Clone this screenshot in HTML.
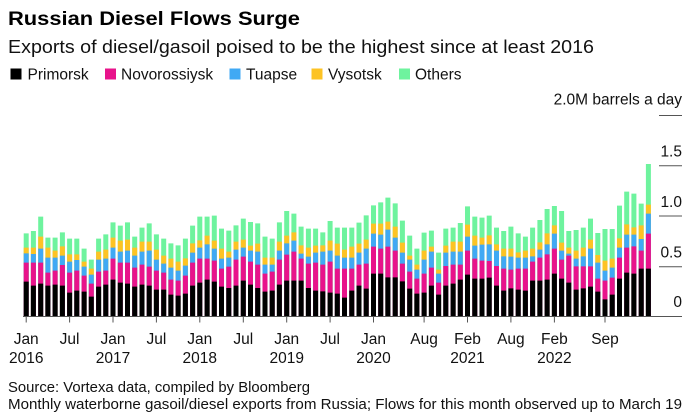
<!DOCTYPE html>
<html><head><meta charset="utf-8"><style>
html,body{margin:0;padding:0;background:#fff;}
svg{display:block;}
text{font-family:"Liberation Sans",Arial,sans-serif;}
</style></head><body>
<svg width="692" height="416" viewBox="0 0 692 416" xmlns="http://www.w3.org/2000/svg">
<rect width="692" height="416" fill="#fff"/>
<text x="8" y="25" font-size="19.5" font-weight="bold" fill="#000" textLength="292" lengthAdjust="spacingAndGlyphs">Russian Diesel Flows Surge</text>
<text x="8" y="53" font-size="18" fill="#111" textLength="586" lengthAdjust="spacingAndGlyphs">Exports of diesel/gasoil poised to be the highest since at least 2016</text>
<g font-size="15.5" fill="#111">
<rect x="10.5" y="68.5" width="11" height="11" fill="#000"/><text x="27.5" y="79.5">Primorsk</text>
<rect x="105" y="68.5" width="11" height="11" fill="#e8138b"/><text x="121" y="79.5">Novorossiysk</text>
<rect x="229.5" y="68.5" width="11" height="11" fill="#40a9f4"/><text x="246" y="79.5">Tuapse</text>
<rect x="311.5" y="68.5" width="11" height="11" fill="#fdc324"/><text x="328" y="79.5">Vysotsk</text>
<rect x="399" y="68.5" width="11" height="11" fill="#6ef39e"/><text x="415" y="79.5">Others</text>
</g>
<g font-size="15.5" fill="#111" text-anchor="end">
<text x="682" y="104.5">2.0M barrels a day</text>
<text x="682" y="156.5">1.5</text>
<text x="682" y="207">1.0</text>
<text x="682" y="257.5">0.5</text>
<text x="682" y="307">0</text>
</g>
<g stroke="#555" stroke-width="1">
<line x1="659" y1="115.5" x2="682" y2="115.5"/>
<line x1="659" y1="165.7" x2="682" y2="165.7"/>
<line x1="659" y1="216" x2="682" y2="216"/>
<line x1="659" y1="266.7" x2="682" y2="266.7"/>
</g>
<g fill="none" stroke-width="5">
<g transform="translate(0,205) scale(1,0.3333333)">
<path stroke="#6ef39e" d="M26.2 85V334M33.4 78V334M40.7 35V334M47.9 98V334M55.1 98V334M62.4 82V334M69.6 101V334M76.8 101V334M84.1 131V334M91.3 164V334M98.6 101V334M105.8 88V334M113 52V334M120.3 62V334M127.5 52V334M134.7 95V334M142 68V334M149.2 55V334M156.4 88V334M163.7 101V334M170.9 115V334M178.1 121V334M185.4 101V334M192.6 62V334M199.8 35V334M207.1 35V334M214.3 32V334M221.5 71V334M228.8 77V334M236 61V334M243.3 41V334M250.5 51V334M257.7 55V334M265 95V334M272.2 101V334M279.4 52V334M286.7 18V334M293.9 26V334M301.1 65V334M308.4 71V334M315.6 71V334M322.8 82V334M330.1 48V334"/>
<path stroke="#fdc324" d="M26.2 128V334M33.4 128V334M40.7 95V334M47.9 128V334M55.1 137V334M62.4 124V334M69.6 148V334M76.8 148V334M84.1 170V334M91.3 191V334M98.6 140V334M105.8 134V334M113 98V334M120.3 107V334M127.5 104V334M134.7 128V334M142 110V334M149.2 110V334M156.4 134V334M163.7 152V334M170.9 161V334M178.1 170V334M185.4 160V334M192.6 115V334M199.8 106V334M207.1 92V334M214.3 107V334M221.5 131V334M228.8 140V334M236 110V334M243.3 104V334M250.5 122V334M257.7 116V334M265 158V334M272.2 158V334M279.4 110V334M286.7 92V334M293.9 82V334M301.1 121V334M308.4 128V334M315.6 122V334M322.8 121V334M330.1 107V334"/>
<path stroke="#40a9f4" d="M26.2 145V334M33.4 147V334M40.7 131V334M47.9 158V334M55.1 158V334M62.4 152V334M69.6 170V334M76.8 165V334M84.1 185V334M91.3 209V334M98.6 164V334M105.8 161V334M113 128V334M120.3 140V334M127.5 137V334M134.7 152V334M142 140V334M149.2 137V334M156.4 164V334M163.7 176V334M170.9 188V334M178.1 197V334M185.4 182V334M192.6 143V334M199.8 128V334M207.1 118V334M214.3 131V334M221.5 161V334M228.8 158V334M236 134V334M243.3 128V334M250.5 137V334M257.7 140V334M265 179V334M272.2 179V334M279.4 137V334M286.7 115V334M293.9 107V334M301.1 146V334M308.4 155V334M315.6 143V334M322.8 140V334M330.1 137V334"/>
<path stroke="#e8138b" d="M26.2 173V334M33.4 173V334M40.7 173V334M47.9 203V334M55.1 197V334M62.4 180V334M69.6 203V334M76.8 197V334M84.1 212V334M91.3 236V334M98.6 200V334M105.8 197V334M113 161V334M120.3 173V334M127.5 173V334M134.7 188V334M142 179V334M149.2 185V334M156.4 197V334M163.7 203V334M170.9 224V334M178.1 227V334M185.4 212V334M192.6 173V334M199.8 161V334M207.1 161V334M214.3 167V334M221.5 191V334M228.8 185V334M236 164V334M243.3 155V334M250.5 170V334M257.7 179V334M265 206V334M272.2 200V334M279.4 164V334M286.7 149V334M293.9 140V334M301.1 161V334M308.4 176V334M315.6 173V334M322.8 179V334M330.1 170V334"/>
<path stroke="#000" d="M26.2 230V334M33.4 242V334M40.7 236V334M47.9 242V334M55.1 239V334M62.4 242V334M69.6 263V334M76.8 257V334M84.1 260V334M91.3 275V334M98.6 245V334M105.8 239V334M113 224V334M120.3 233V334M127.5 236V334M134.7 245V334M142 239V334M149.2 242V334M156.4 254V334M163.7 254V334M170.9 269V334M178.1 272V334M185.4 266V334M192.6 242V334M199.8 233V334M207.1 224V334M214.3 230V334M221.5 245V334M228.8 249V334M236 242V334M243.3 227V334M250.5 239V334M257.7 249V334M265 260V334M272.2 257V334M279.4 239V334M286.7 227V334M293.9 227V334M301.1 227V334M308.4 249V334M315.6 257V334M322.8 259V334M330.1 263V334"/>
</g>
<g transform="translate(0,190) scale(1,0.3333333)">
<path stroke="#6ef39e" d="M337.3 113V379M344.5 113V379M351.8 113V379M359 98V379M366.2 76V379M373.5 46V379M380.7 37V379M387.9 23V379M395.2 40V379M402.4 92V379M409.7 137V379M416.9 176V379M424.1 128V379M431.4 122V379M438.6 188V379M445.8 116V379M453.1 113V379M460.3 99V379M467.5 49V379M474.8 80V379M482 83V379"/>
<path stroke="#fdc324" d="M337.3 161V379M344.5 179V379M351.8 170V379M359 161V379M366.2 149V379M373.5 101V379M380.7 101V379M387.9 95V379M395.2 110V379M402.4 158V379M409.7 197V379M416.9 224V379M424.1 182V379M431.4 170V379M438.6 239V379M445.8 167V379M453.1 155V379M460.3 155V379M467.5 104V379M474.8 137V379M482 143V379"/>
<path stroke="#40a9f4" d="M337.3 197V379M344.5 203V379M351.8 203V379M359 188V379M366.2 176V379M373.5 131V379M380.7 134V379M387.9 119V379M395.2 143V379M402.4 188V379M409.7 209V379M416.9 239V379M424.1 209V379M431.4 185V379M438.6 251V379M445.8 188V379M453.1 185V379M460.3 185V379M467.5 140V379M474.8 167V379M482 164V379"/>
<path stroke="#e8138b" d="M337.3 236V379M344.5 236V379M351.8 236V379M359 224V379M366.2 221V379M373.5 170V379M380.7 176V379M387.9 170V379M395.2 182V379M402.4 221V379M409.7 245V379M416.9 266V379M424.1 251V379M431.4 233V379M438.6 278V379M445.8 228V379M453.1 224V379M460.3 224V379M467.5 182V379M474.8 206V379M482 212V379"/>
<path stroke="#000" d="M337.3 311V379M344.5 323V379M351.8 302V379M359 287V379M366.2 296V379M373.5 251V379M380.7 251V379M387.9 262V379M395.2 262V379M402.4 274V379M409.7 296V379M416.9 311V379M424.1 308V379M431.4 287V379M438.6 314V379M445.8 287V379M453.1 281V379M460.3 269V379M467.5 254V379M474.8 266V379M482 266V379"/>
</g>
<g transform="translate(0,155) scale(1,0.3333333)">
<path stroke="#6ef39e" d="M489.2 182V484M496.5 218V484M503.7 228V484M510.9 215V484M518.2 235V484M525.4 245V484M532.6 218V484M539.9 195V484M547.1 162V484M554.4 153V484M561.6 168V484M568.8 228V484M576.1 225V484M583.3 218V484M590.5 191V484M597.8 234V484M605 222V484M612.2 222V484M619.5 152V484M626.7 110V484M633.9 116V484M641.2 146V484M648.4 27V484"/>
<path stroke="#fdc324" d="M489.2 241V484M496.5 268V484M503.7 281V484M510.9 281V484M518.2 292V484M525.4 287V484M532.6 281V484M539.9 262V484M547.1 235V484M554.4 211V484M561.6 263V484M568.8 278V484M576.1 287V484M583.3 278V484M590.5 254V484M597.8 300V484M605 317V484M612.2 311V484M619.5 250V484M626.7 208V484M633.9 217V484M641.2 211V484M648.4 149V484"/>
<path stroke="#40a9f4" d="M489.2 268V484M496.5 287V484M503.7 304V484M510.9 305V484M518.2 308V484M525.4 308V484M532.6 304V484M539.9 284V484M547.1 268V484M554.4 236V484M561.6 287V484M568.8 296V484M576.1 311V484M583.3 304V484M590.5 281V484M597.8 323V484M605 347V484M612.2 338V484M619.5 278V484M626.7 239V484M633.9 239V484M641.2 252V484M648.4 176V484"/>
<path stroke="#e8138b" d="M489.2 318V484M496.5 333V484M503.7 341V484M510.9 344V484M518.2 341V484M525.4 341V484M532.6 320V484M539.9 308V484M547.1 298V484M554.4 281V484M561.6 314V484M568.8 302V484M576.1 334V484M583.3 334V484M590.5 334V484M597.8 371V484M605 377V484M612.2 368V484M619.5 308V484M626.7 278V484M633.9 274V484M641.2 287V484M648.4 236V484"/>
<path stroke="#000" d="M489.2 368V484M496.5 392V484M503.7 407V484M510.9 400V484M518.2 404V484M525.4 407V484M532.6 377V484M539.9 377V484M547.1 374V484M554.4 356V484M561.6 371V484M568.8 383V484M576.1 404V484M583.3 400V484M590.5 395V484M597.8 410V484M605 433V484M612.2 419V484M619.5 371V484M626.7 353V484M633.9 356V484M641.2 341V484M648.4 341V484"/>
</g>
</g>
<line x1="23" y1="316.5" x2="682" y2="316.5" stroke="#555" stroke-width="1"/>
<g stroke="#555" stroke-width="1">
<line x1="26.2" y1="316.5" x2="26.2" y2="322.5"/>
<line x1="69.6" y1="316.5" x2="69.6" y2="322.5"/>
<line x1="113" y1="316.5" x2="113" y2="322.5"/>
<line x1="156.4" y1="316.5" x2="156.4" y2="322.5"/>
<line x1="199.8" y1="316.5" x2="199.8" y2="322.5"/>
<line x1="243.3" y1="316.5" x2="243.3" y2="322.5"/>
<line x1="286.7" y1="316.5" x2="286.7" y2="322.5"/>
<line x1="330.1" y1="316.5" x2="330.1" y2="322.5"/>
<line x1="373.5" y1="316.5" x2="373.5" y2="322.5"/>
<line x1="424.1" y1="316.5" x2="424.1" y2="322.5"/>
<line x1="467.5" y1="316.5" x2="467.5" y2="322.5"/>
<line x1="510.9" y1="316.5" x2="510.9" y2="322.5"/>
<line x1="554.4" y1="316.5" x2="554.4" y2="322.5"/>
<line x1="605" y1="316.5" x2="605" y2="322.5"/>
</g>
<g font-size="15.5" fill="#111" text-anchor="middle">
<text x="26.2" y="344">Jan</text><text x="26.2" y="363">2016</text>
<text x="69.6" y="344">Jul</text>
<text x="113" y="344">Jan</text><text x="113" y="363">2017</text>
<text x="156.4" y="344">Jul</text>
<text x="199.8" y="344">Jan</text><text x="199.8" y="363">2018</text>
<text x="243.3" y="344">Jul</text>
<text x="286.7" y="344">Jan</text><text x="286.7" y="363">2019</text>
<text x="330.1" y="344">Jul</text>
<text x="373.5" y="344">Jan</text><text x="373.5" y="363">2020</text>
<text x="424.1" y="344">Aug</text>
<text x="467.5" y="344">Feb</text><text x="467.5" y="363">2021</text>
<text x="510.9" y="344">Aug</text>
<text x="554.4" y="344">Feb</text><text x="554.4" y="363">2022</text>
<text x="605" y="344">Sep</text>
</g>
<g font-size="14.5" fill="#111">
<text x="8" y="392" textLength="302" lengthAdjust="spacingAndGlyphs">Source: Vortexa data, compiled by Bloomberg</text>
<text x="8" y="409" textLength="674" lengthAdjust="spacingAndGlyphs">Monthly waterborne gasoil/diesel exports from Russia; Flows for this month observed up to March 19</text>
</g>
</svg>
</body></html>
